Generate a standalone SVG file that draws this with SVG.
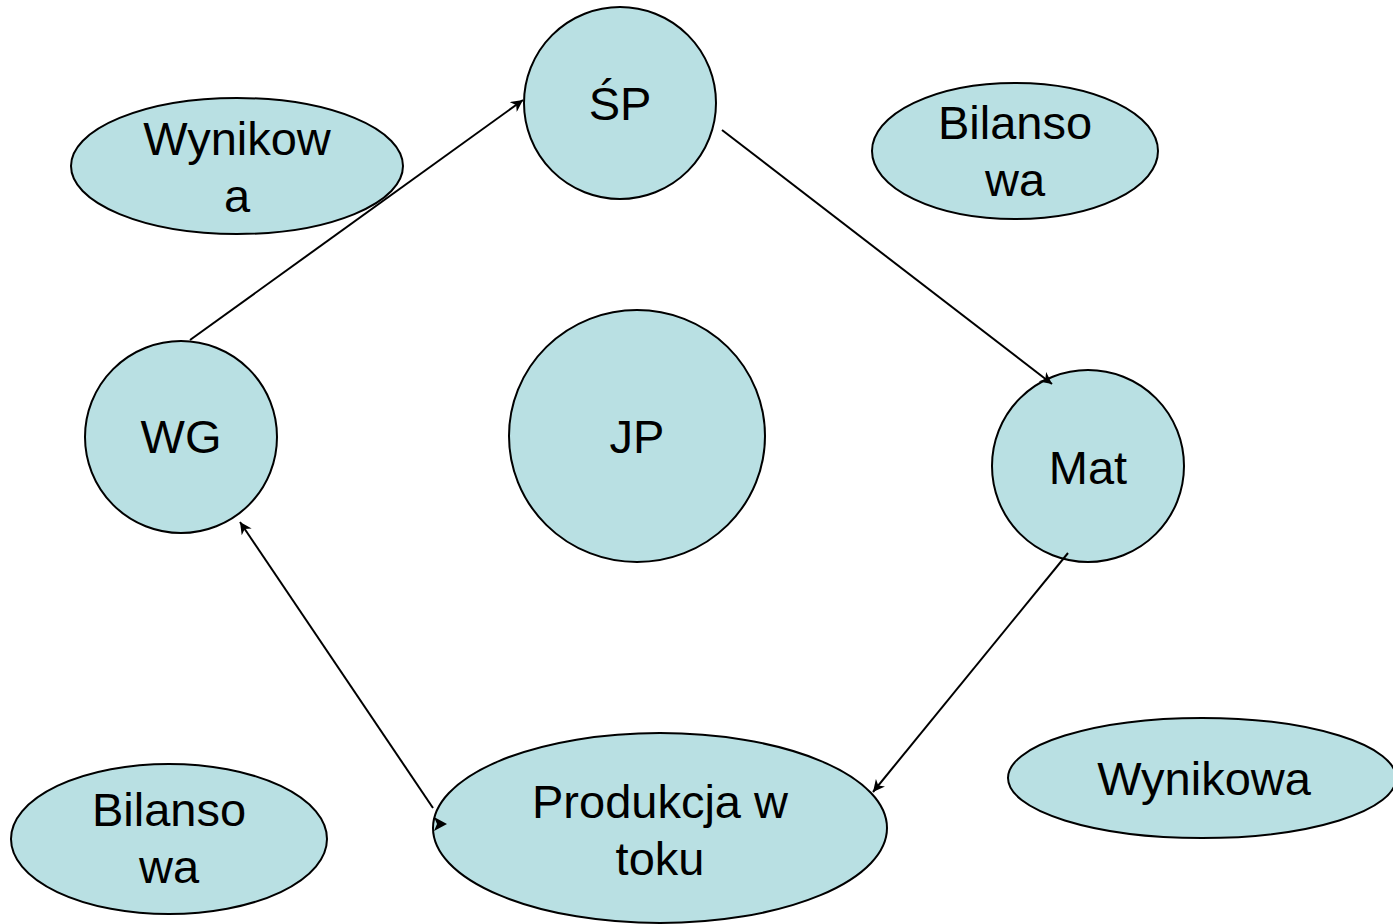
<svg xmlns="http://www.w3.org/2000/svg" width="1393" height="924" viewBox="0 0 1393 924">
<defs>
<style>
.n{fill:#b9e0e3;stroke:#000;stroke-width:2}
.t{font-family:"Liberation Sans",Arial,sans-serif;font-size:47px;fill:#000;text-anchor:middle}
.c{stroke:#000;stroke-width:2;fill:none}
</style>
<marker id="a" viewBox="0 0 10 10" refX="10" refY="5" markerWidth="12" markerHeight="12" markerUnits="userSpaceOnUse" orient="auto"><path d="M0,0L10,5L0,10L3,5Z" fill="#000"/></marker>
</defs>
<rect width="1393" height="924" fill="#fff"/>
<g id="wynikowa1"><ellipse class="n" cx="237" cy="166" rx="166" ry="68"/><text class="t" x="237" y="155">Wynikow</text><text class="t" x="237" y="212">a</text></g>
<g id="sp"><circle class="n" cx="620" cy="103" r="96"/><text class="t" x="620" y="120">ŚP</text></g>
<g id="bilansowa1"><ellipse class="n" cx="1015" cy="151" rx="143" ry="68"/><text class="t" x="1015" y="139">Bilanso</text><text class="t" x="1015" y="196">wa</text></g>
<g id="wg"><circle class="n" cx="181" cy="437" r="96"/><text class="t" x="181" y="453">WG</text></g>
<g id="jp"><ellipse class="n" cx="637" cy="436" rx="128" ry="126"/><text class="t" x="637" y="453">JP</text></g>
<g id="mat"><circle class="n" cx="1088" cy="466" r="96"/><text class="t" x="1088" y="484">Mat</text></g>
<g id="produkcja"><ellipse class="n" cx="660" cy="828" rx="227" ry="95"/><text class="t" x="660" y="818">Produkcja w</text><text class="t" x="660" y="875">toku</text></g>
<g id="wynikowa2"><ellipse class="n" cx="1202" cy="778" rx="194" ry="60"/><text class="t" x="1204" y="795">Wynikowa</text></g>
<g id="bilansowa2"><ellipse class="n" cx="169" cy="839" rx="158" ry="75"/><text class="t" x="169" y="826">Bilanso</text><text class="t" x="169" y="883">wa</text></g>
<g id="connectors">
<line class="c" x1="190" y1="340" x2="523" y2="100" marker-end="url(#a)"/>
<line class="c" x1="722" y1="130" x2="1052" y2="384" marker-end="url(#a)"/>
<line class="c" x1="1068" y1="553" x2="873" y2="792" marker-end="url(#a)"/>
<line class="c" x1="433" y1="808" x2="240" y2="522" marker-end="url(#a)"/>
<path d="M434,817L447,824L434,831L437,824Z" fill="#000"/>
</g>
</svg>
